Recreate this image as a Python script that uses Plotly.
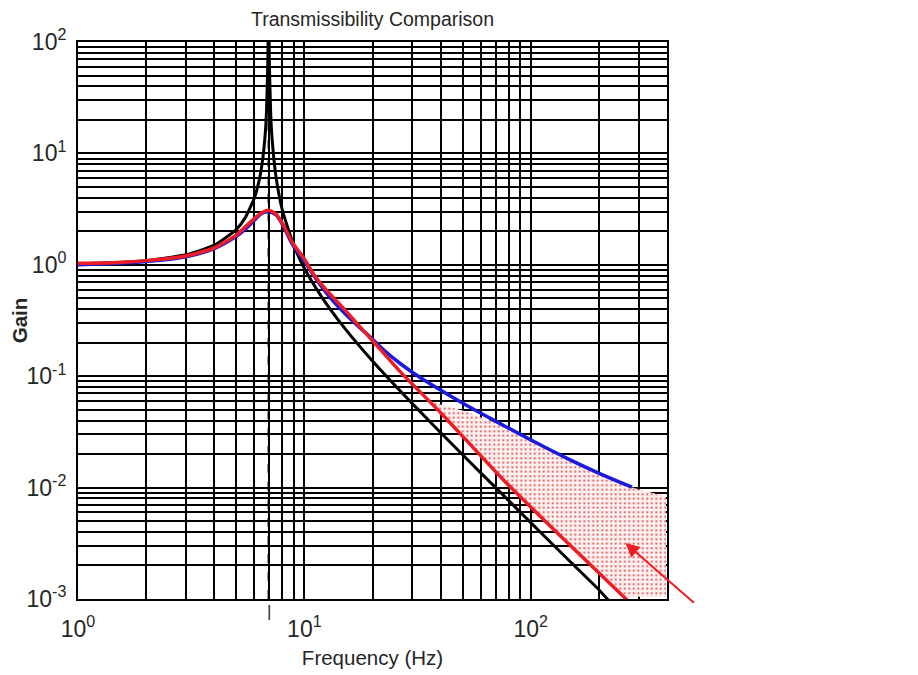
import math
import plotly.graph_objects as go

# ---------------- data ----------------
natural_freq = 6.95  # Hz, dashed resonance marker

black_freq = [1, 1.5, 2, 3, 4, 5, 5.5, 6, 6.3, 6.5, 6.7, 6.8, 6.9, 6.95,
              7.0, 7.1, 7.2, 7.5, 8, 9, 10, 12, 15, 20, 30, 50, 70, 100, 150, 200, 220]
black_gain = [1.02, 1.05, 1.09, 1.23, 1.50, 2.07, 2.68, 3.93, 5.6, 8.0, 14.1, 23.4, 70, 300,
              69, 22.9, 13.6, 6.1, 3.08, 1.48, 0.93, 0.505, 0.273, 0.137, 0.0567, 0.0197,
              0.0100, 0.00485, 0.00215, 0.00121, 0.00098]

red_freq = [1, 1.5, 2, 3, 4, 5, 5.5, 6, 6.5, 7, 7.5, 8, 8.9, 10, 11, 12.5, 15, 17,
            20.2, 26.5, 40, 75.8, 150, 257.5, 280]
red_gain = [1.03, 1.05, 1.09, 1.20, 1.42, 1.85, 2.2, 2.6, 2.95, 3.08, 2.85, 2.35, 1.56,
            1.13, 0.82, 0.594, 0.40, 0.30, 0.204, 0.11, 0.047, 0.0117, 0.0030, 0.00105, 0.00088]

blue_freq = [1, 1.5, 2, 3, 4, 5, 5.5, 6, 6.5, 7, 7.5, 8, 8.9, 10, 11, 12.5, 15, 17,
             20, 22.5, 26.5, 30.3, 37.15, 52.2, 73.3, 102.9, 144.6, 203, 280]
blue_gain = [1.00, 1.03, 1.07, 1.18, 1.40, 1.80, 2.1, 2.5, 2.9, 3.0, 2.8, 2.3, 1.5,
             1.08, 0.80, 0.56, 0.37, 0.29, 0.215, 0.171, 0.130, 0.107, 0.082, 0.0545,
             0.0375, 0.0260, 0.0183, 0.0133, 0.0101]

# shaded improvement region (outline)
region_freq = [36, 52.2, 73.3, 102.9, 144.6, 203, 280, 330, 396,
               396, 257.5, 150, 75.8, 40, 36]
region_gain = [0.0594, 0.048, 0.0368, 0.0256, 0.0180, 0.0131, 0.0100, 0.0092, 0.0083,
               0.00105, 0.00105, 0.0030, 0.0117, 0.047, 0.0594]

x_major = [1, 10, 100]
x_major_text = ["10<sup>0</sup>", "10<sup>1</sup>", "10<sup>2</sup>"]
x_minor = [2, 3, 4, 5, 6, 7, 8, 9, 20, 30, 40, 50, 60, 70, 80, 90, 200, 300]
y_major = [1e-3, 1e-2, 1e-1, 1, 10, 100]
y_major_text = ["10<sup>-3</sup>", "10<sup>-2</sup>", "10<sup>-1</sup>",
                "10<sup>0</sup>", "10<sup>1</sup>", "10<sup>2</sup>"]
y_minor = [m * 10 ** e for e in range(-3, 2) for m in range(2, 10)]

x_range = [1, 400]
y_range = [1e-3, 1e2]

arrow_head = (262, 0.00318)

FONT = "Liberation Sans, Arial, sans-serif"
TXT = "#262626"

fig = go.Figure()

fig.add_trace(go.Scatter(
    x=region_freq, y=region_gain, mode="lines", fill="toself",
    line=dict(width=0, color="rgba(0,0,0,0)"),
    fillcolor="#fdeeee",
    fillpattern=dict(shape=".", fgcolor="#e44f4f", bgcolor="#fdf0f0",
                     size=4.5, solidity=0.16, fillmode="replace"),
    hoverinfo="skip", showlegend=False))

fig.add_trace(go.Scatter(
    x=[natural_freq, natural_freq], y=y_range, mode="lines",
    line=dict(color="black", width=2, dash="dash"), showlegend=False))

fig.add_trace(go.Scatter(
    x=black_freq, y=black_gain, mode="lines",
    line=dict(color="black", width=3, shape="spline", smoothing=0.5), showlegend=False))

fig.add_trace(go.Scatter(
    x=blue_freq, y=blue_gain, mode="lines",
    line=dict(color="#1a1adc", width=3.5, shape="spline", smoothing=1.0), showlegend=False))

fig.add_trace(go.Scatter(
    x=red_freq, y=red_gain, mode="lines",
    line=dict(color="#ee1c25", width=3.5, shape="spline", smoothing=0.6), showlegend=False))

# annotations on log axes take log10 coordinates
fig.add_annotation(
    x=math.log10(arrow_head[0]), y=math.log10(arrow_head[1]), xref="x", yref="y", text="",
    showarrow=True, ax=70, ay=61, axref="pixel", ayref="pixel",
    arrowcolor="#ee1c25", arrowwidth=2, arrowhead=2, arrowsize=1.4)

fig.add_annotation(
    x=math.log10(natural_freq), y=0, xref="x", yref="paper", text="|", showarrow=False,
    yanchor="top", yshift=-1, font=dict(family=FONT, size=17, color=TXT))

grid = dict(showgrid=True, gridcolor="black", gridwidth=1.6)

fig.update_xaxes(
    type="log", range=[0, 2.60206], tickvals=x_major, ticktext=x_major_text,
    ticks="", showline=True, linecolor="black", linewidth=2, mirror=True,
    automargin=False, ticklabelstandoff=8,
    tickfont=dict(family=FONT, size=23, color=TXT),
    title=dict(text="Frequency (Hz)", font=dict(family=FONT, size=20.5, color=TXT), standoff=10),
    minor=dict(tickvals=x_minor, ticks="", **grid), zeroline=False, **grid)

fig.update_yaxes(
    type="log", range=[-3, 2], tickvals=y_major, ticktext=y_major_text,
    ticks="", showline=True, linecolor="black", linewidth=2, mirror=True,
    automargin=False, ticklabelstandoff=5,
    tickfont=dict(family=FONT, size=23, color=TXT),
    title=dict(text="<b>Gain</b>", font=dict(family=FONT, size=20.5, color=TXT), standoff=5),
    minor=dict(tickvals=y_minor, ticks="", **grid), zeroline=False, **grid)

fig.update_layout(
    width=918, height=675,
    margin=dict(l=70, r=259, t=34, b=84, autoexpand=False),
    paper_bgcolor="white", plot_bgcolor="white",
    title=dict(text="Transmissibility Comparison", x=0.5, xref="paper", xanchor="center",
               y=0.984, yanchor="middle", automargin=False,
               font=dict(family=FONT, size=19.5, color=TXT)),
    showlegend=False)

fig.write_html("out.html")
